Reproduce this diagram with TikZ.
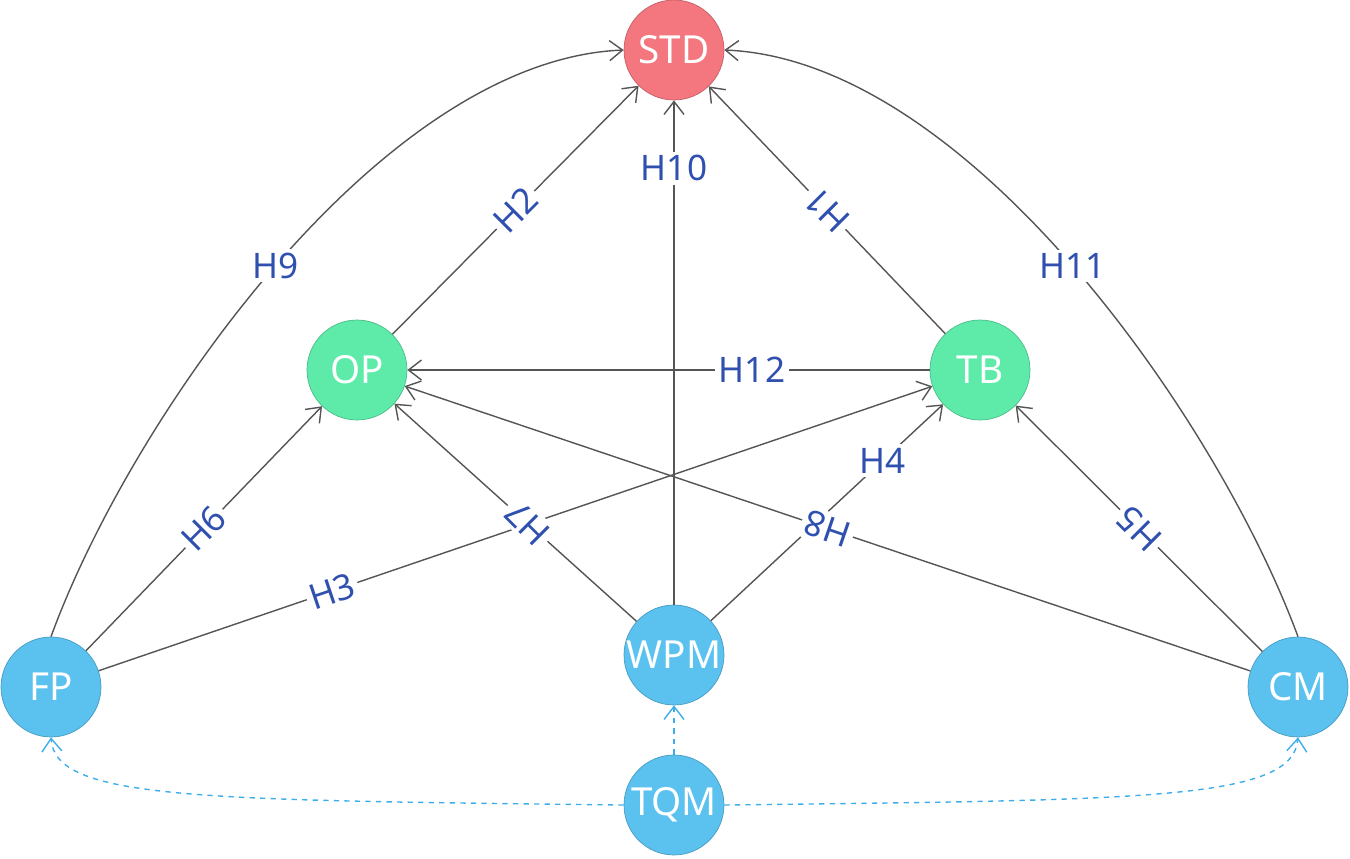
\documentclass[tikz,border=0pt]{standalone}
\usepackage{fontspec}
\setmainfont{Noto Sans}
\usetikzlibrary{arrows.meta}
\definecolor{cred}{HTML}{F4777F}
\definecolor{cgreen}{HTML}{5EEBAA}
\definecolor{cblue}{HTML}{5BC2F0}
\definecolor{cedge}{HTML}{555555}
\definecolor{clab}{HTML}{3050B0}
\definecolor{cdash}{HTML}{3DAEE9}
\begin{document}
\begin{tikzpicture}[x=0.02cm,y=-0.02cm,
  circ/.style={circle,minimum size=2cm,inner sep=0pt,text=white,font=\fontsize{22}{24}\selectfont},
  rn/.style={circ,fill=cred,draw=cred!80!black},
  gn/.style={circ,fill=cgreen,draw=cgreen!80!black},
  bn/.style={circ,fill=cblue,draw=cblue!80!black},
  edge/.style={draw=cedge,line width=0.8pt,-{Straight Barb[length=2.6mm,width=4mm]}},
  dedge/.style={draw=cdash,line width=0.8pt,dashed,-{Straight Barb[length=2.6mm,width=4mm]}},
  lab/.style={fill=white,text=clab,inner sep=2pt,font=\fontsize{20}{22}\selectfont}]
\useasboundingbox (0,0) rectangle (1350,859);
\node[rn] (STD) at (674,50) {STD};
\node[gn] (OP) at (357,370) {OP};
\node[gn] (TB) at (980,370) {TB};
\node[bn] (FP) at (51,687) {FP};
\node[bn] (WPM) at (674,655) {WPM};
\node[bn] (CM) at (1298,687) {CM};
\node[bn] (TQM) at (674,805) {TQM};
% straight edges
\draw[edge] (OP) -- node[lab,rotate=45] {H2} (STD);
\draw[edge] (WPM) -- node[lab,pos=0.865] {H10} (STD);
\draw[edge] (TB) -- node[lab,rotate=135] {H1} (STD);
\draw[edge] (TB) -- node[lab,pos=0.34] {H12} (OP);
\draw[edge] (FP) -- node[lab,rotate=45] {H6} (OP);
\draw[edge] (FP) -- node[lab,rotate=18.6,pos=0.28] {H3} (TB);
\draw[edge] (WPM) -- node[lab,rotate=135,pos=0.45] {H7} (OP);
\draw[edge] (WPM) -- node[lab,pos=0.74] {H4} (TB);
\draw[edge] (CM) -- node[lab,rotate=161,pos=0.5] {H8} (OP);
\draw[edge] (CM) -- node[lab,rotate=135] {H5} (TB);
% curved edges
\draw[edge] (FP.north) .. controls (130,420) and (380,60) .. node[lab,pos=0.5] {H9} (STD.west);
\draw[edge] (CM.north) .. controls (1218,420) and (968,60) .. node[lab,pos=0.5] {H11} (STD.east);
% dashed
\draw[dedge] (TQM) -- (WPM);
\draw[dedge] (TQM.west) .. controls (200,800) and (55,800) .. (FP.south);
\draw[dedge] (TQM.east) .. controls (1148,800) and (1293,800) .. (CM.south);
\end{tikzpicture}
\end{document}
